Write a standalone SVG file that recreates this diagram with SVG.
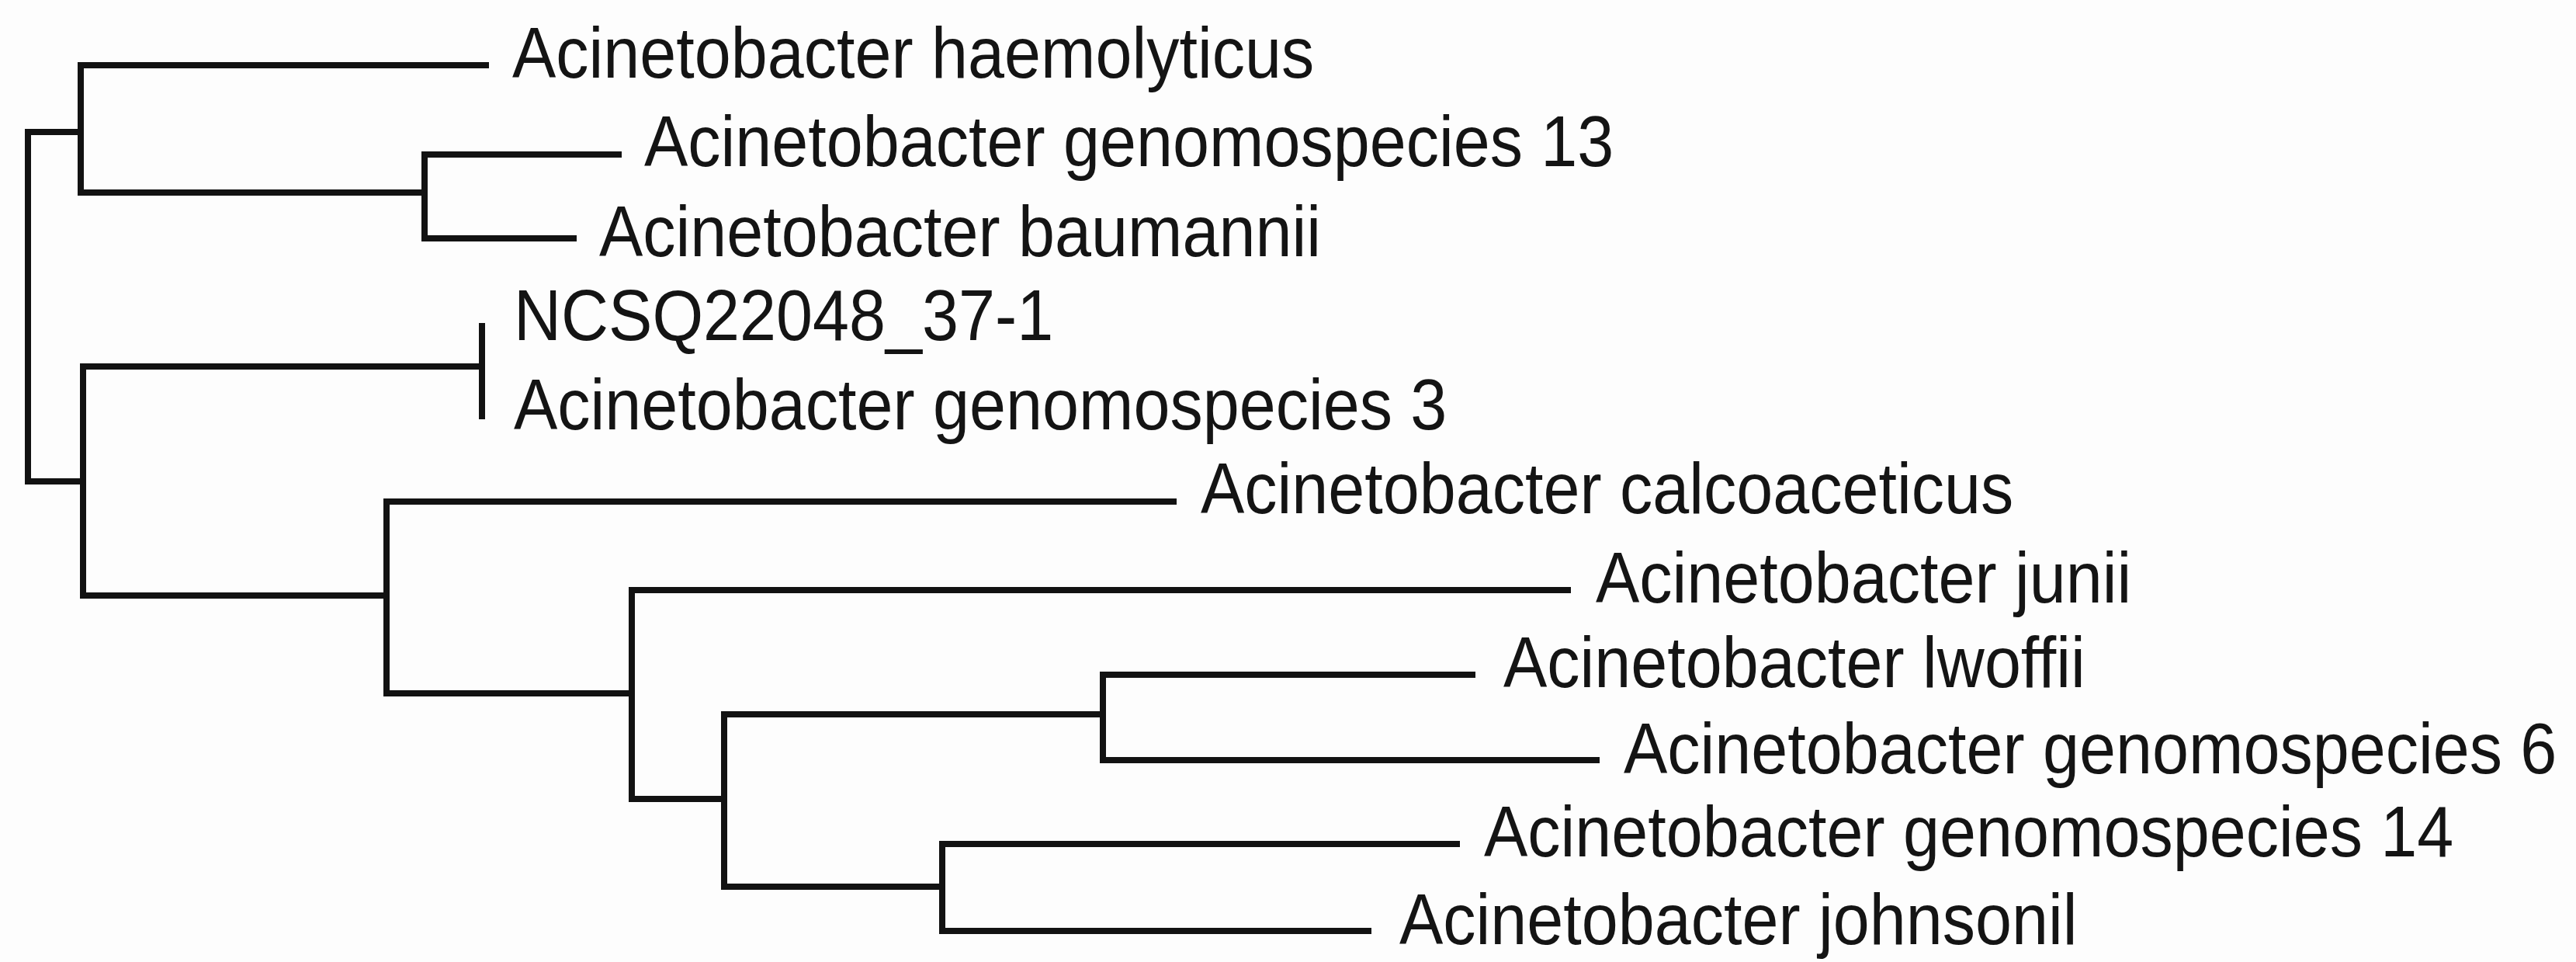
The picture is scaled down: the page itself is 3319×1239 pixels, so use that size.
<svg xmlns="http://www.w3.org/2000/svg" width="3319" height="1239" viewBox="0 0 3319 1239">
<style>
.br{fill:none;stroke:#121212;stroke-width:8;stroke-linecap:square;stroke-linejoin:miter}
.lb{font-family:"Liberation Sans",Arial,sans-serif;font-size:84.5px;fill:#141414}
</style>
<rect width="3319" height="1239" fill="#fdfdfd"/>
<g id="connectors">
<path class="br" d="M104,170 H36 V620 H107"/>
<path class="br" d="M626,84 H104 V248 H547"/>
<path class="br" d="M797,199 H547 V307 H739"/>
<path class="br" d="M107,767 V472 H621"/>
<path class="br" d="M621,420 V536"/>
<path class="br" d="M107,767 H498"/>
<path class="br" d="M1512,646 H498 V893 H814"/>
<path class="br" d="M2020,760 H814 V1029 H933"/>
<path class="br" d="M1421,920 H933 V1142 H1214"/>
<path class="br" d="M1897,869 H1421 V979 H2057"/>
<path class="br" d="M1877,1087 H1214 V1199 H1763"/>
</g>
<g id="leaf-haemolyticus"><text class="lb" transform="translate(660,100) scale(1,1.1)">Acinetobacter haemolyticus</text></g>
<g id="leaf-genomospecies13"><text class="lb" transform="translate(830,214) scale(1,1.1)">Acinetobacter genomospecies 13</text></g>
<g id="leaf-baumannii"><text class="lb" transform="translate(772,330) scale(1,1.1)">Acinetobacter baumannii</text></g>
<g id="leaf-NCSQ22048"><text class="lb" transform="translate(662,438) scale(1,1.1)">NCSQ22048_37-1</text></g>
<g id="leaf-genomospecies3"><text class="lb" transform="translate(662,553) scale(1,1.1)">Acinetobacter genomospecies 3</text></g>
<g id="leaf-calcoaceticus"><text class="lb" transform="translate(1547,661) scale(1,1.1)">Acinetobacter calcoaceticus</text></g>
<g id="leaf-junii"><text class="lb" transform="translate(2056,776) scale(1,1.1)">Acinetobacter junii</text></g>
<g id="leaf-lwoffii"><text class="lb" transform="translate(1937,885) scale(1,1.1)">Acinetobacter lwoffii</text></g>
<g id="leaf-genomospecies6"><text class="lb" transform="translate(2092,996) scale(1,1.1)">Acinetobacter genomospecies 6</text></g>
<g id="leaf-genomospecies14"><text class="lb" transform="translate(1912,1103) scale(1,1.1)">Acinetobacter genomospecies 14</text></g>
<g id="leaf-johnsonil"><text class="lb" transform="translate(1803,1216) scale(1,1.1)">Acinetobacter johnsonil</text></g>
</svg>
